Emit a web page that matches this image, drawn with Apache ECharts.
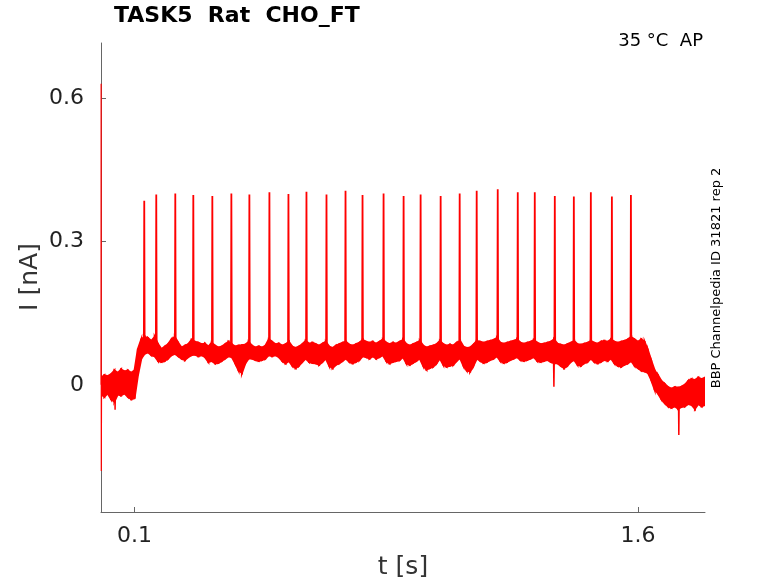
<!DOCTYPE html>
<html>
<head>
<meta charset="utf-8">
<script src="https://cdn.jsdelivr.net/npm/echarts@6/dist/echarts.min.js"></script>
<style>html,body{margin:0;padding:0;background:#fff}#c{width:778px;height:583px}</style>
</head>
<body>
<div id="c"></div>
<script>
// ---- data ----
var envTime = [];
for (var k = 0; k <= 180; k++) envTime.push(+(k * 0.01).toFixed(2));
var envUpper = [
0.015,0.020,0.018,0.022,0.030,0.025,0.032,0.028,0.030,0.025,
0.030,0.075,0.095,0.100,0.098,0.092,0.100,0.085,0.075,0.080,
0.085,0.095,0.100,0.088,0.078,0.082,0.085,0.094,0.090,0.088,
0.085,0.086,0.080,0.088,0.082,0.078,0.080,0.085,0.090,0.085,
0.080,0.082,0.083,0.084,0.090,0.082,0.078,0.080,0.078,0.082,
0.095,0.090,0.085,0.086,0.082,0.085,0.090,0.080,0.077,0.080,
0.085,0.092,0.086,0.088,0.085,0.082,0.086,0.090,0.080,0.077,
0.082,0.085,0.088,0.090,0.084,0.082,0.085,0.088,0.094,0.090,
0.088,0.090,0.086,0.090,0.095,0.088,0.085,0.088,0.086,0.090,
0.094,0.085,0.082,0.085,0.088,0.092,0.082,0.078,0.080,0.082,
0.085,0.092,0.085,0.082,0.084,0.082,0.088,0.092,0.080,0.077,
0.078,0.084,0.092,0.090,0.088,0.090,0.092,0.094,0.098,0.088,
0.086,0.088,0.090,0.092,0.095,0.088,0.086,0.088,0.090,0.094,
0.088,0.085,0.086,0.088,0.090,0.095,0.086,0.084,0.082,0.085,
0.088,0.092,0.085,0.084,0.086,0.088,0.092,0.088,0.086,0.090,
0.092,0.090,0.095,0.090,0.088,0.090,0.092,0.095,0.100,0.095,
0.090,0.095,0.090,0.072,0.050,0.030,0.020,0.008,0.002,-0.005,
-0.008,-0.005,-0.006,-0.004,0.000,0.008,0.012,0.010,0.015,0.012,
0.015
];
var envLower = [
-0.020,-0.025,-0.018,-0.030,-0.035,-0.020,-0.022,-0.018,-0.025,-0.030,
-0.028,0.020,0.055,0.065,0.068,0.062,0.060,0.050,0.048,0.050,
0.055,0.062,0.065,0.060,0.055,0.052,0.058,0.062,0.063,0.060,
0.062,0.058,0.048,0.050,0.045,0.046,0.050,0.055,0.060,0.058,
0.045,0.030,0.025,0.045,0.055,0.055,0.052,0.050,0.052,0.055,
0.062,0.060,0.062,0.058,0.050,0.045,0.050,0.040,0.035,0.040,
0.048,0.055,0.048,0.046,0.045,0.042,0.048,0.055,0.040,0.035,
0.042,0.045,0.050,0.055,0.048,0.045,0.048,0.052,0.060,0.058,
0.055,0.060,0.055,0.058,0.062,0.050,0.045,0.048,0.050,0.052,
0.058,0.045,0.042,0.046,0.050,0.055,0.040,0.032,0.035,0.038,
0.045,0.055,0.042,0.038,0.040,0.042,0.050,0.056,0.040,0.030,
0.028,0.040,0.055,0.050,0.046,0.048,0.052,0.055,0.060,0.050,
0.046,0.048,0.052,0.055,0.058,0.052,0.050,0.052,0.055,0.058,
0.050,0.048,0.050,0.052,0.048,0.045,0.045,0.040,0.035,0.040,
0.048,0.052,0.042,0.040,0.045,0.048,0.055,0.048,0.045,0.048,
0.052,0.050,0.055,0.045,0.040,0.038,0.042,0.045,0.050,0.040,
0.035,0.030,0.028,0.025,0.010,-0.010,-0.018,-0.030,-0.038,-0.045,
-0.048,-0.045,-0.050,-0.046,-0.045,-0.040,-0.042,-0.050,-0.040,-0.045,
-0.042
];
var spikeTime = [0.1289,0.1647,0.2214,0.2751,0.3318,0.3885,0.4422,0.5019,0.5586,0.6123,
0.6720,0.7287,0.7794,0.8421,0.9018,0.9525,1.0122,1.0689,1.1196,1.1823,
1.2420,1.2927,1.3524,1.4091,1.4598,1.5225,1.5792];
var spikePeak = [0.385,0.398,0.400,0.397,0.395,0.400,0.398,0.403,0.399,0.404,
0.398,0.406,0.397,0.400,0.395,0.398,0.395,0.400,0.406,0.409,
0.403,0.403,0.395,0.394,0.403,0.394,0.397];
var spikeBase = 0.075;
var dipTime = [0.042,1.3497,1.722];
var dipValue = [-0.052,-0.004,-0.105];
var dipBase = [-0.005,0.050,-0.030];
var transientTime = [0.0,0.0004,0.0009,0.0016,0.0025];
var transientValue = [0.0,0.63,-0.18,-0.01,0.0];
var xTicks = [0.1,1.6];
var yTicks = [0,0.3,0.6];

// ---- build series data ----
var bandData = [];
for (var i = 0; i < envTime.length; i++) {
  bandData.push([envTime[i], envUpper[i], envLower[i]]);
}
var spikeData = [];
for (var j = 0; j < spikeTime.length; j++) {
  spikeData.push([spikeTime[j] - 0.0012, spikeBase]);
  spikeData.push([spikeTime[j], spikePeak[j]]);
  spikeData.push([spikeTime[j] + 0.0012, spikeBase]);
}
var dipData = [];
for (var d = 0; d < dipTime.length; d++) {
  dipData.push([dipTime[d] - 0.001, dipBase[d]]);
  dipData.push([dipTime[d], dipValue[d]]);
  dipData.push([dipTime[d] + 0.001, dipBase[d]]);
  dipData.push([dipTime[d] + 0.0011, null]);
}
var transientData = transientTime.map(function (t, n) { return [t, transientValue[n]]; });

var RED = '#ff0000';
function renderBand(params, api) {
  var idx = params.dataIndex;
  if (idx >= bandData.length - 1) return null;
  var a = bandData[idx], b = bandData[idx + 1];
  var pts = [api.coord([a[0], a[1]]), api.coord([b[0], b[1]]), api.coord([b[0], b[2]]), api.coord([a[0], a[2]])];
  return {
    type: 'polygon',
    shape: {points: pts},
    style: {fill: RED, stroke: RED, lineWidth: 2, lineJoin: 'miter'}
  };
}

var chart = echarts.init(document.getElementById('c'), null, {renderer: 'canvas'});
chart.setOption({
  animation: false,
  backgroundColor: '#fff',
  grid: {left: 101, top: 43, right: 73, bottom: 71},
  xAxis: {
    type: 'value', min: 0, max: 1.8,
    axisLine: {show: true, onZero: false, lineStyle: {color: '#666', width: 1}},
    axisTick: {show: true, inside: true, length: 5, customValues: xTicks, lineStyle: {color: '#666'}},
    axisLabel: {customValues: xTicks, color: '#222', fontSize: 22, fontFamily: 'DejaVu Sans', margin: 13,
      formatter: function (v) { return String(v); }},
    splitLine: {show: false}
  },
  yAxis: {
    type: 'value', min: -0.266, max: 0.715,
    axisLine: {show: true, onZero: false, lineStyle: {color: '#666', width: 1}},
    axisTick: {show: true, inside: true, length: 5, customValues: yTicks, lineStyle: {color: '#666'}},
    axisLabel: {customValues: yTicks, color: '#222', fontSize: 22, fontFamily: 'DejaVu Sans', margin: 17,
      formatter: function (v) { return String(v); }},
    splitLine: {show: false}
  },
  series: [
    {type: 'custom', data: bandData, renderItem: renderBand, encode: {x: 0, y: [1, 2]}, clip: true, z: 2},
    {type: 'line', data: spikeData, symbol: 'none', lineStyle: {color: RED, width: 1.8}, z: 3},
    {type: 'line', data: dipData, symbol: 'none', connectNulls: false, lineStyle: {color: RED, width: 1.5}, z: 3},
    {type: 'line', data: transientData, symbol: 'none', lineStyle: {color: RED, width: 1.2}, z: 3}
  ],
  graphic: [
    {type: 'text', left: 114, top: 5, style: {text: 'TASK5  Rat  CHO_FT', font: 'bold 22px "DejaVu Sans"', fill: '#000'}},
    {type: 'text', right: 75, top: 32, style: {text: '35 °C  AP', font: '18px "DejaVu Sans"', fill: '#000'}},
    {type: 'text', x: 30, y: 277, rotation: Math.PI / 2,
      style: {text: 'I [nA]', font: '25px "DejaVu Sans"', fill: '#333', align: 'center', verticalAlign: 'middle'}},
    {type: 'text', x: 403, y: 567,
      style: {text: 't [s]', font: '25px "DejaVu Sans"', fill: '#333', align: 'center', verticalAlign: 'middle'}},
    {type: 'text', x: 717, y: 278, rotation: Math.PI / 2,
      style: {text: 'BBP Channelpedia ID 31821 rep 2', font: '13px "DejaVu Sans"', fill: '#000', align: 'center', verticalAlign: 'middle'}}
  ]
});
</script>
</body>
</html>
